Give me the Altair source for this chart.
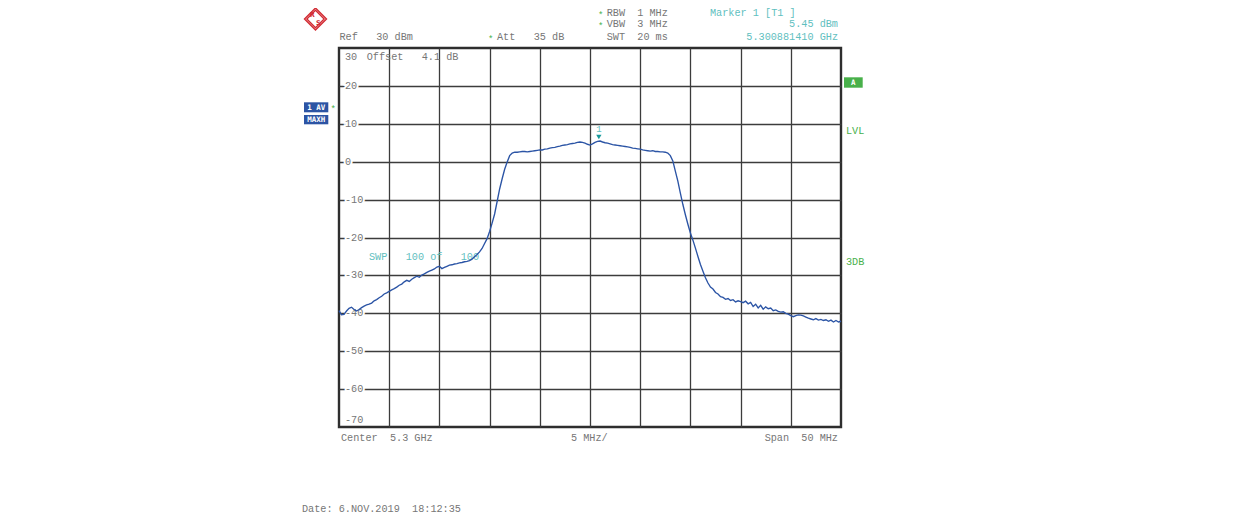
import altair as alt
import pandas as pd

# ---------------- data ----------------
START_MHZ = -25.0          # sweep start relative to 5.3 GHz centre
STEP_MHZ = 0.25            # spacing of the read-off sweep points

left_skirt = [
    -39.3, -40.4, -40.3, -39.4, -38.7, -38.4, -39.0, -39.4, -39.0, -38.5,
    -38.1, -37.8, -37.6, -37.3, -36.7, -36.4, -35.9, -35.5, -34.9, -34.6,
    -34.2, -33.8, -33.5, -33.1, -32.6, -32.3, -31.7, -31.3, -31.6, -31.0,
    -30.6, -30.2, -30.5, -29.9, -29.6, -29.2, -28.9, -28.6, -28.3, -27.8,
    -27.6, -28.2, -27.9, -27.6, -27.3, -27.2, -27.0, -26.9, -26.7, -26.6,
    -26.4, -26.3, -26.1, -25.7, -25.1, -24.5, -23.8,
]
left_edge = [
    -22.9, -21.6, -20.3, -18.4, -16.2, -13.8, -10.5, -7.2, -4.5, -2.0,
    -0.1, 1.6, 2.3, 2.5, 2.5,
]
passband = [
    2.6, 2.7, 2.7, 2.6, 2.7, 2.8, 2.9, 3.0, 3.1, 3.1,
    3.3, 3.4, 3.6, 3.7, 3.8, 4.0, 4.1, 4.3, 4.4, 4.5,
    4.7, 4.8, 4.9, 5.1, 5.2, 5.1, 4.9, 4.6, 4.4, 4.7,
    5.1, 5.35, 5.45, 5.2, 5.0, 4.9, 4.7, 4.5, 4.4, 4.3,
    4.2, 4.1, 4.0, 3.9, 3.8, 3.6, 3.5, 3.4, 3.3, 3.1,
    3.0, 2.9, 2.8, 2.9, 2.7, 2.7, 2.6, 2.6, 2.5, 2.3,
    1.6,
]
right_skirt = [
    0.2, -2.5, -5.1, -8.3, -11.3, -14.0, -16.5, -18.8, -20.7, -22.8,
    -25.0, -27.1, -28.9, -30.6, -32.0, -33.1, -33.6, -34.5, -34.9, -35.6,
    -35.8, -36.3, -36.1, -36.6, -36.4, -37.0, -36.7, -36.9, -37.2, -36.8,
    -37.5, -37.1, -38.2, -37.6, -38.6, -37.9, -38.9, -38.3, -38.8, -38.6,
    -39.3, -39.1, -39.5, -39.7, -39.6, -40.0, -40.2, -40.6, -40.9, -40.6,
    -40.4, -40.5, -40.7, -41.0, -41.3, -41.5, -41.7, -41.4, -41.8, -41.6,
    -41.9, -41.7, -42.1, -41.8, -42.3, -41.9, -42.3, -42.1,
]
levels = left_skirt + left_edge + passband + right_skirt
freqs = [START_MHZ + i * STEP_MHZ for i in range(len(levels))]

y_grid = [20, 10, 0, -10, -20, -30, -40, -50, -60]
y_grid_text = ["20", "10", "0", "-10", "-20", "-30", "-40", "-50", "-60"]
y_edge = [30, -70]
y_edge_text = ["30", "-70"]
x_grid = [-20, -15, -10, -5, 0, 5, 10, 15, 20]

marker_f = [0.881410]
marker_dbm = [5.45]

# ---------------- layout / style ----------------
W, H = 502, 379
FONT = "Liberation Mono"
GRAY = "#767676"
TEAL = "#5fc0c0"
TEAL_DARK = "#17999a"
GREEN = "#48b04a"
BLUE = "#2c54a4"
RED = "#d22a32"
TRACE = "#2b54a5"
GRID = "#3c3c3c"
FS = 10.2


def nb(s):
    """keep the instrument's fixed-width spacing (SVG collapses blanks)"""
    return s.replace(" ", "\u00a0")


xs = alt.Scale(domain=[-25, 25], nice=False, zero=False)
ys = alt.Scale(domain=[-70, 30], nice=False, zero=False)
XAX = alt.Axis(values=x_grid, grid=True, gridColor=GRID, gridWidth=1.3,
               labels=False, ticks=False, domain=False, title=None)
YAX = alt.Axis(values=y_grid, grid=True, gridColor=GRID, gridWidth=1.3,
               labels=False, ticks=False, domain=False, title=None)

trace = pd.DataFrame({"f": freqs, "dbm": levels})
ylab = pd.DataFrame({"v": y_grid, "t": y_grid_text})
yedge = pd.DataFrame({"v": y_edge, "t": y_edge_text})
mk = pd.DataFrame({"f": marker_f, "dbm": marker_dbm, "t": ["1"]})

line = alt.Chart(trace).mark_line(color=TRACE, strokeWidth=1.35).encode(
    x=alt.X("f:Q", scale=xs, axis=XAX),
    y=alt.Y("dbm:Q", scale=ys, axis=YAX),
)

halo = alt.Chart(ylab).mark_text(
    align="left", baseline="middle", font=FONT, fontSize=FS, dx=6,
    color="white", stroke="white", strokeWidth=4,
).encode(x=alt.value(0), y=alt.Y("v:Q", scale=ys, axis=YAX), text="t:N")

ylabels = alt.Chart(ylab).mark_text(
    align="left", baseline="middle", font=FONT, fontSize=FS, dx=6, color=GRAY,
).encode(x=alt.value(0), y=alt.Y("v:Q", scale=ys, axis=YAX), text="t:N")

top_lab = alt.Chart(yedge.iloc[[0]]).mark_text(
    align="left", baseline="top", font=FONT, fontSize=FS, dx=6, dy=4, color=GRAY,
).encode(x=alt.value(0), y=alt.Y("v:Q", scale=ys, axis=YAX), text="t:N")
bot_lab = alt.Chart(yedge.iloc[[1]]).mark_text(
    align="left", baseline="bottom", font=FONT, fontSize=FS, dx=6, dy=-2, color=GRAY,
).encode(x=alt.value(0), y=alt.Y("v:Q", scale=ys, axis=YAX), text="t:N")

marker = alt.Chart(mk).mark_point(
    shape="triangle-down", filled=True, color=TEAL_DARK, size=28, yOffset=-4, opacity=1,
).encode(x=alt.X("f:Q", scale=xs, axis=XAX), y=alt.Y("dbm:Q", scale=ys, axis=YAX))
marker_t = alt.Chart(mk).mark_text(
    font=FONT, fontSize=9, color=TEAL, dy=-12, baseline="middle",
).encode(x=alt.X("f:Q", scale=xs, axis=XAX), y=alt.Y("dbm:Q", scale=ys, axis=YAX), text="t:N")

# annotation texts (pixel positions relative to plot origin)
ann_left = pd.DataFrame([
    ("Ref   30 dBm", 0.5, -11, GRAY),
    ("Att   35 dB", 158, -11, GRAY),
    ("RBW  1 MHz", 267.7, -35.5, GRAY),
    ("VBW  3 MHz", 267.7, -23.7, GRAY),
    ("SWT  20 ms", 267.7, -10.7, GRAY),
    ("Offset   4.1 dB", 27.7, 8.7, GRAY),
    ("Center  5.3 GHz", 2, 390, GRAY),
    ("5 MHz/", 232, 390, GRAY),
    ("Date: 6.NOV.2019  18:12:35", -37, 461, GRAY),
    ("Marker 1 [T1 ]", 371, -35.5, TEAL),
    ("SWP   100 of   100", 30, 208.7, TEAL),
    ("LVL", 507, 82.7, GREEN),
    ("3DB", 507, 214.3, GREEN),
], columns=["t", "x", "y", "c"])
ann_right = pd.DataFrame([
    ("5.45 dBm", 499, -23.7, TEAL),
    ("5.300881410 GHz", 499, -10.7, TEAL),
    ("Span  50 MHz", 499, 390, GRAY),
], columns=["t", "x", "y", "c"])
ann_left["t"] = ann_left["t"].map(nb)
ann_right["t"] = ann_right["t"].map(nb)
stars = pd.DataFrame({"x": [151.7, 261.7, 261.7, -5.7], "y": [-11, -35.5, -23.7, 59],
                      "t": ["*"] * 4})


def txt(df, align, **kw):
    return alt.Chart(df).mark_text(align=align, baseline="middle", font=FONT, fontSize=FS, **kw).encode(
        x=alt.X("x:Q", scale=None, axis=None), y=alt.Y("y:Q", scale=None, axis=None),
        text="t:N", color=alt.Color("c:N", scale=None, legend=None))


t_left = txt(ann_left, "left")
t_right = txt(ann_right, "right")
t_star = alt.Chart(stars).mark_text(align="center", baseline="middle", font=FONT, fontSize=9,
                                    dy=2, color=GREEN).encode(
    x=alt.X("x:Q", scale=None, axis=None), y=alt.Y("y:Q", scale=None, axis=None), text="t:N")

boxes = pd.DataFrame([
    (-35, -10.7, 54.3, 64.3, BLUE),
    (-35, -10.7, 67, 76.3, BLUE),
    (505, 523.7, 29.3, 39.7, GREEN),
], columns=["x", "x2", "y", "y2", "c"])
box = alt.Chart(boxes).mark_rect().encode(
    x=alt.X("x:Q", scale=None, axis=None), x2="x2:Q",
    y=alt.Y("y:Q", scale=None, axis=None), y2="y2:Q",
    color=alt.Color("c:N", scale=None, legend=None))
box_t = alt.Chart(pd.DataFrame({"t": [nb("1 AV"), "MAXH", "A"], "x": [-22.8, -22.8, 514.3],
                                "y": [59.5, 71.8, 34.6]})).mark_text(
    align="center", baseline="middle", font="DejaVu Sans Mono", fontSize=7.5,
    fontWeight="bold", color="white").encode(
    x=alt.X("x:Q", scale=None, axis=None), y=alt.Y("y:Q", scale=None, axis=None), text="t:N")

# R&S logo
logo_d = alt.Chart(pd.DataFrame({"x": [-23.5, -23.5], "y": [-29, -29], "s": [484, 300]})).mark_point(
    shape="diamond", filled=False, color=RED, strokeWidth=1.4, opacity=1).encode(
    x=alt.X("x:Q", scale=None, axis=None), y=alt.Y("y:Q", scale=None, axis=None),
    size=alt.Size("s:Q", scale=None, legend=None))
logo_t = alt.Chart(pd.DataFrame({"t": ["R", "S"], "x": [-26.8, -20.6], "y": [-33.2, -25.2]})).mark_text(
    font="DejaVu Sans", fontSize=6.5, fontWeight="bold", color=RED, align="center", baseline="middle").encode(
    x=alt.X("x:Q", scale=None, axis=None), y=alt.Y("y:Q", scale=None, axis=None), text="t:N")

chart = alt.layer(
    halo, ylabels, top_lab, bot_lab, t_left, t_right, t_star, box, box_t, logo_d, logo_t,
    line, marker, marker_t,
).properties(
    width=W, height=H,
    padding={"left": 331, "top": 40, "right": 380, "bottom": 89},
    autosize=alt.AutoSizeParams(type="none"),
    background="white",
).configure_view(stroke="#2e2e2e", strokeWidth=2.4)

chart.save("out.html", embed_options={"renderer": "svg", "actions": False})
